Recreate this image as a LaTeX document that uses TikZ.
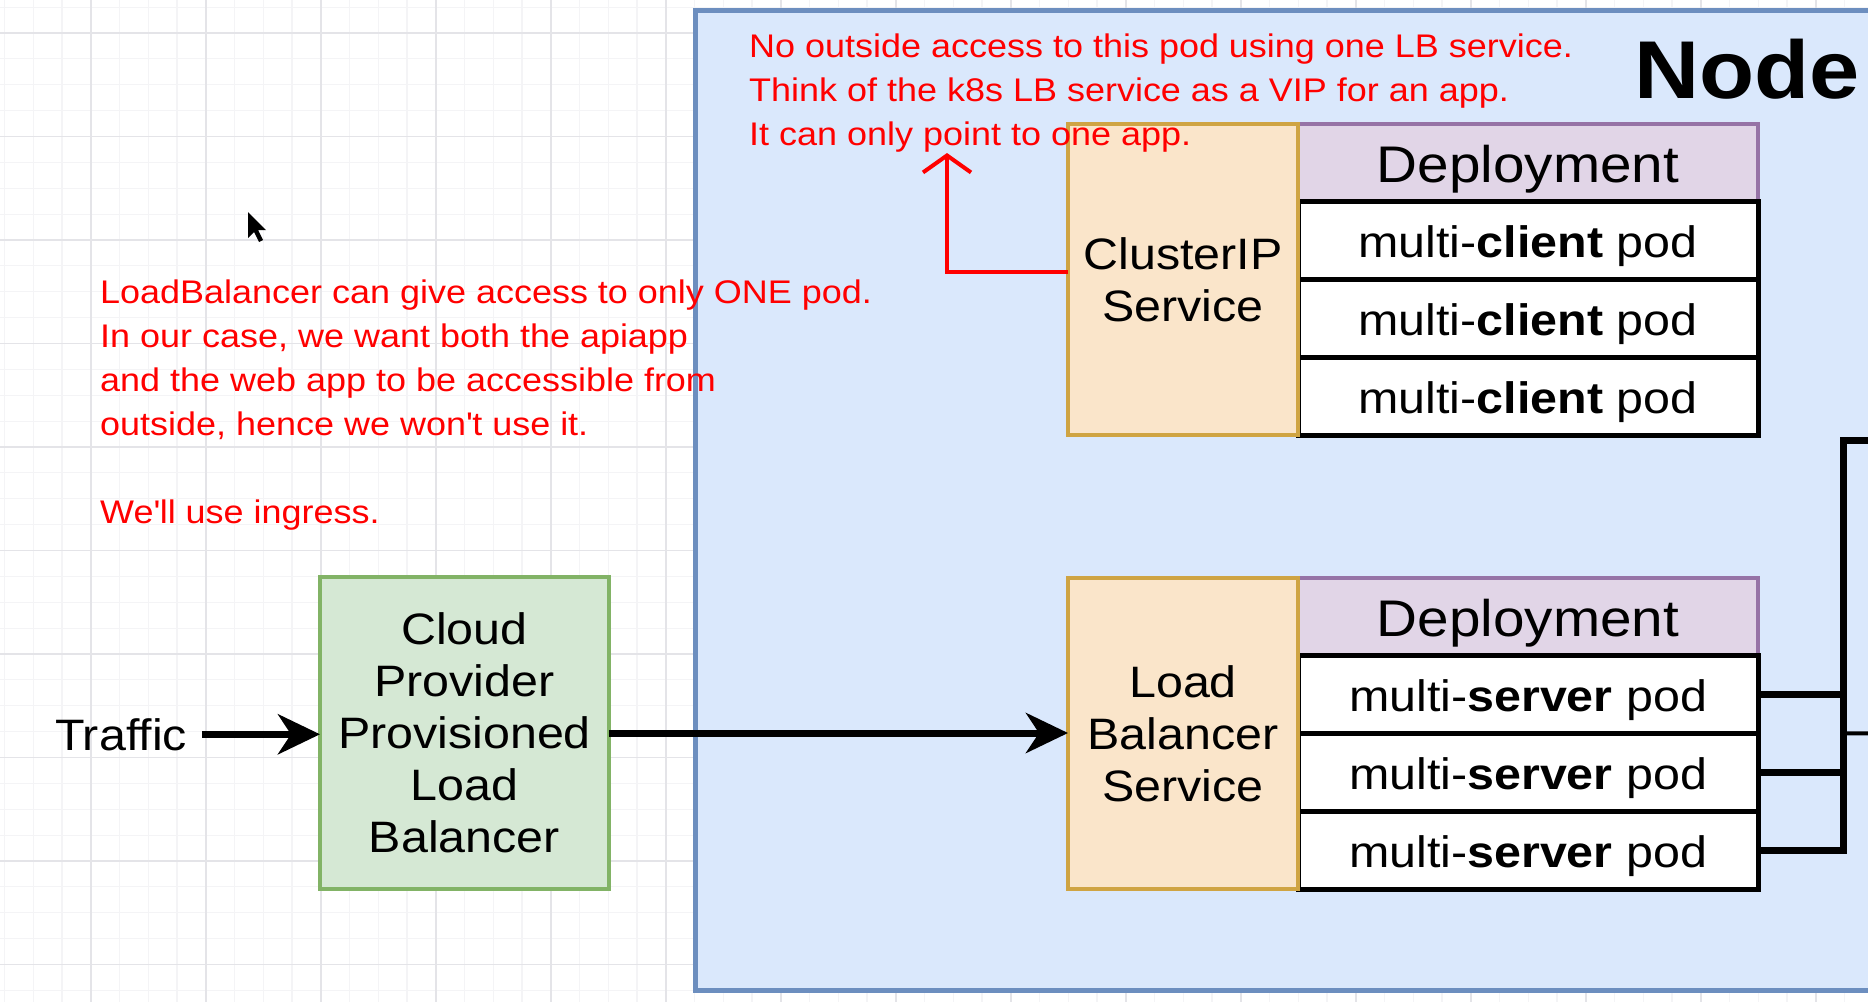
\documentclass[tikz,border=0pt]{standalone}
\usepackage{fontspec}
\setmainfont{Liberation Sans}[FakeStretch=1.1]
\usepackage{tikz}
\usetikzlibrary{arrows.meta}
\usetikzlibrary{positioning}
\usepackage{color}
\definecolor{gridmajor}{RGB}{228, 228, 232}
\definecolor{gridminor}{RGB}{244, 244, 246}
\definecolor{nodefill}{RGB}{218, 232, 252}
\definecolor{nodeline}{RGB}{108, 142, 191}
\definecolor{svcfill}{RGB}{250, 229, 202}
\definecolor{svcline}{RGB}{207, 164, 67}
\definecolor{depfill}{RGB}{225, 213, 231}
\definecolor{depline}{RGB}{150, 115, 166}
\definecolor{lbfill}{RGB}{213, 232, 212}
\definecolor{lbline}{RGB}{130, 179, 102}
\definecolor{notered}{RGB}{255, 0, 0}

\newcommand{\notefont}{\fontsize{32.7}{44}\selectfont}
\newcommand{\boxfont}{\fontsize{44}{52}\selectfont}
\newcommand{\headfont}{\fontsize{51.5}{60}\selectfont}
\newcommand{\framefont}{\fontsize{82}{90}\selectfont\bfseries}

\tikzset{
    svcbox/.style={draw=svcline, fill=svcfill, line width=4pt, minimum width=230pt, minimum height=311pt,
                   align=center, font=\boxfont, inner sep=0pt, outer sep=0pt},
    depheader/.style={draw=depline, fill=depfill, line width=4pt, minimum width=460pt, minimum height=77pt,
                   font=\headfont, text height=40pt, text depth=0pt, inner sep=0pt, outer sep=0pt},
    podbox/.style={draw=black, fill=white, line width=5pt, minimum width=460pt, minimum height=78pt,
                   font=\boxfont, text height=36pt, text depth=2pt, inner sep=0pt, outer sep=0pt},
    lbbox/.style={draw=lbline, fill=lbfill, line width=4pt, minimum width=289pt, minimum height=312pt,
                   align=center, font=\boxfont, inner sep=0pt, outer sep=0pt},
    notetext/.style={text=notered, font=\notefont, align=left, inner sep=0pt, anchor=base west},
    flow/.style={line width=7pt, -{Stealth[length=42pt, width=40pt, inset=13pt]}},
    podlink/.style={line width=7pt},
    pointer/.style={draw=notered, line width=4pt, -{Straight Barb[length=17pt, width=48pt]}},
}

\begin{document}
\begin{tikzpicture}[x=1pt, y=-1pt]
            \useasboundingbox (0,0) rectangle (1868,1002);
            \begin{scope}
            \clip (0,0) rectangle (1868,1002);
            % Background grid
            \fill[white] (0,0) rectangle (1868,1002);
            \foreach \x in {4.45,33.2,...,1868}   \draw[gridminor, line width=1.2pt] (\x,0) -- (\x,1002);
            \foreach \y in {7.125,33,...,1002}    \draw[gridminor, line width=1.2pt] (0,\y) -- (1868,\y);
            \foreach \x in {90.7,205.7,...,1868}  \draw[gridmajor, line width=1.6pt] (\x,0) -- (\x,1002);
            \foreach \y in {33,136.5,...,1002}    \draw[gridmajor, line width=1.6pt] (0,\y) -- (1868,\y);
            % Mouse pointer
            \fill[black] (248,212) -- ++(0,26) -- ++(6,-6) -- ++(5,10) -- ++(4,-2) -- ++(-5,-10) -- ++(8,0) -- cycle;
            % Node frame
            \draw[draw=nodeline, fill=nodefill, line width=5pt] (695,10) rectangle (1900,990);
            \node[font=\framefont, anchor=base west, inner sep=0pt] (nodetitle) at (1634,98) {Node};
            % ClusterIP deployment
            \node[depheader, anchor=north west] (dep1) at (1298,124) {Deployment};
            \node[podbox, below=0pt of dep1] (cli1) {multi-\textbf{client} pod};
            \node[podbox, below=0pt of cli1] (cli2) {multi-\textbf{client} pod};
            \node[podbox, below=0pt of cli2] (cli3) {multi-\textbf{client} pod};
            \node[svcbox, anchor=north east] (cip) at (dep1.north west) {ClusterIP\\Service};
            % LoadBalancer deployment
            \node[depheader, anchor=north west] (dep2) at (1298,578) {Deployment};
            \node[podbox, below=0pt of dep2] (srv1) {multi-\textbf{server} pod};
            \node[podbox, below=0pt of srv1] (srv2) {multi-\textbf{server} pod};
            \node[podbox, below=0pt of srv2] (srv3) {multi-\textbf{server} pod};
            \node[svcbox, anchor=north east] (lbs) at (dep2.north west) {Load\\Balancer\\Service};
            % Cloud load balancer & traffic
            \node[lbbox] (cloud) at (464.5,733) {Cloud\\Provider\\Provisioned\\Load\\Balancer};
            \node[font=\boxfont, anchor=base west, inner xsep=15pt, inner ysep=0pt] (traffic) at (40,750) {Traffic};
            \draw[flow] (traffic.east) -- (traffic.east -| cloud.west);
            \draw[flow] (cloud.east) -- (cloud.east -| lbs.west);
            % Pod links on the right
            \coordinate (bustop) at (1843,440);
            \coordinate (busout) at (1900,440);
            \coordinate (lbout)  at (1900,733);
            \draw[podlink] (srv3.east) -| (bustop) -- (busout);
            \draw[podlink] (srv1.east) -- (srv1.east -| bustop);
            \draw[podlink] (srv2.east) -- (srv2.east -| bustop);
            \draw[line width=4pt] (lbs.center -| bustop) -- (lbout);
            % Red notes
            \coordinate (notetip) at (947,153);
            \draw[pointer] ([yshift=7.5pt]cip.west) -| (notetip);
            \node[notetext] (podnote) at (749,145) {No outside access to this pod using one LB service.\\
                Think of the k8s LB service as a VIP for an app.\\It can only point to one app.};
            \node[notetext] (lbnote) at (100,523) {LoadBalancer can give access to only ONE pod.\\
                In our case, we want both the apiapp\\and the web app to be accessible from\\
                outside, hence we won\textquotesingle t use it.\\[44pt]We\textquotesingle ll use ingress.};
            \end{scope}
        \end{tikzpicture}
\end{document}
